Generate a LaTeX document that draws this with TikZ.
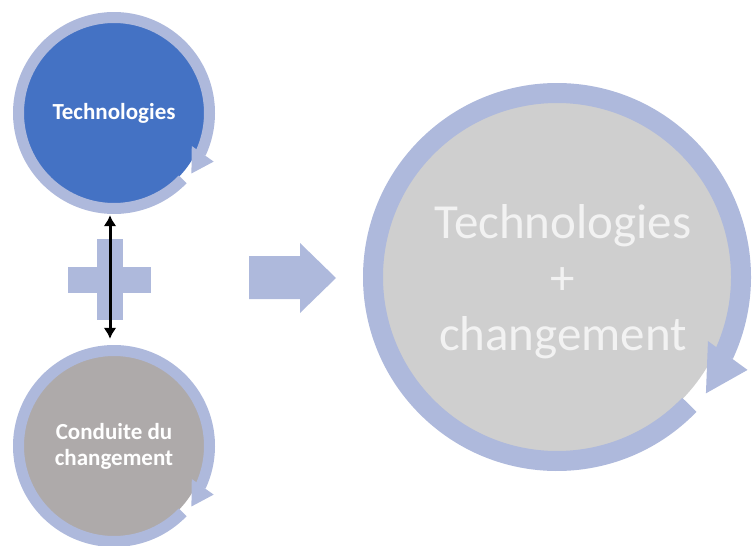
\documentclass[tikz,border=0pt]{standalone}
\usepackage{fontspec}
\setmainfont{Carlito}
\usetikzlibrary{calc, positioning}
\usetikzlibrary{arrows.meta}
\definecolor{ringcol}{HTML}{AEB9DC}
\definecolor{techblue}{HTML}{4472C4}
\definecolor{condgray}{HTML}{AEAAAA}
\definecolor{biggray}{HTML}{CFCFCF}
\definecolor{bigtext}{HTML}{F2F2F2}

% circular arrow round a node: centre, mid radius, ring width
\newcommand{\ringarrow}[3]{%
  \draw[ringcol, line width=#3pt] ($(#1)+(-44:#2)$) arc[start angle=-44, end angle=-385, radius=#2];
  \fill[ringcol] ($(#1)+(-23:#2-#3)$) -- ($(#1)+(-26:#2+1.4*#3)$) -- ($(#1)+(-38:#2+0.25*#3)$) -- cycle;
}

\begin{document}
\begin{tikzpicture}[x=1pt,y=1pt,
  smallcirc/.style={circle, minimum size=182pt, inner sep=0pt, align=center, text=white,
    font=\bfseries\fontsize{23}{26}\selectfont},
  bigcirc/.style={circle, minimum size=350pt, inner sep=0pt, align=center, text=bigtext,
    fill=biggray, font=\fontsize{49}{56}\selectfont},
  dblarrow/.style={{Latex[length=11pt,width=13pt]}-{Latex[length=11pt,width=13pt]}, line width=3pt}]
\useasboundingbox (0,0) rectangle (753,-546);

% plus and block arrow
\fill[ringcol] (97,-239) rectangle (123,-320);
\fill[ringcol] (68,-267) rectangle (151,-293);
\fill[ringcol] (249,-256) -- (300,-256) -- (300,-243) -- (336,-278) -- (300,-313) -- (300,-299) -- (249,-299) -- cycle;

\node[smallcirc, fill=techblue] (tech) at (114,-113) {Technologies};
\node[smallcirc, fill=condgray] (cond) at (114,-446) {Conduite du\\changement};
\node[bigcirc] (combo) at (557,-277) {};
\node[align=center, text=bigtext, font=\fontsize{49}{56}\selectfont] (combotext) at ([xshift=6pt,yshift=-5pt]combo.center) {Technologies\\+\\changement};

\ringarrow{tech}{95.5}{11}
\ringarrow{cond}{95.5}{11}
\ringarrow{combo}{184}{20}

\draw[dblarrow] ([xshift=-4pt,yshift=-11pt]tech.south) -- ([xshift=-4pt,yshift=16pt]cond.north);
\end{tikzpicture}
\end{document}
